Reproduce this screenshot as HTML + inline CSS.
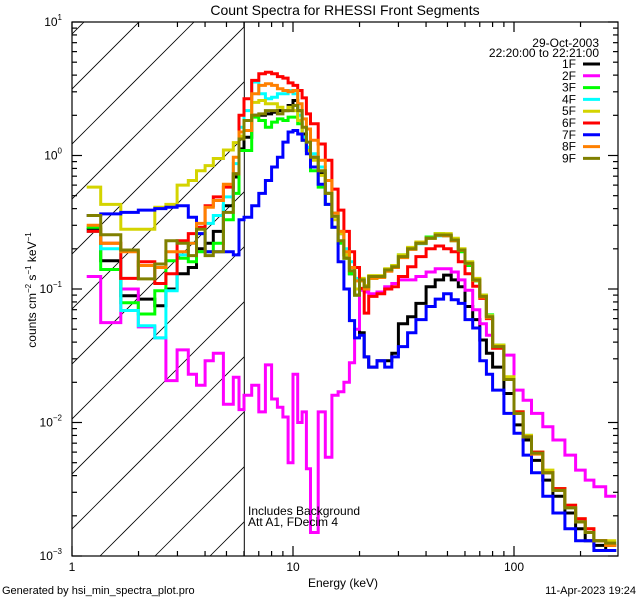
<!DOCTYPE html>
<html><head><meta charset="utf-8"><style>
html,body{margin:0;padding:0;background:#fff;}
svg{display:block;font-family:"Liberation Sans",sans-serif;}
</style></head><body>
<svg id="chart" width="640" height="600" viewBox="0 0 640 600" xmlns="http://www.w3.org/2000/svg">
<rect x="0" y="0" width="640" height="600" fill="#fff"/>
<text x="345" y="15" font-size="14" text-anchor="middle">Count Spectra for RHESSI Front Segments</text>
<defs><clipPath id="hclip"><rect x="72" y="22" width="172" height="534"/></clipPath>
<clipPath id="pclip"><rect x="72" y="22" width="546" height="534"/></clipPath></defs>
<g id="hatch" clip-path="url(#hclip)"></g>
<line x1="244.3" y1="22" x2="244.3" y2="556" stroke="#000" stroke-width="1"/>
<g id="series" clip-path="url(#pclip)"></g>
<g id="axes"></g>
<text transform="translate(36,290) rotate(-90)" font-size="12" text-anchor="middle">counts cm<tspan font-size="8" dy="-5">−2</tspan><tspan dy="5"> s</tspan><tspan font-size="8" dy="-5">−1</tspan><tspan dy="5"> keV</tspan><tspan font-size="8" dy="-5">−1</tspan></text>
<text x="343" y="587" font-size="12" text-anchor="middle">Energy (keV)</text>
<text x="2" y="594" font-size="11">Generated by hsi_min_spectra_plot.pro</text>
<text x="636" y="594" font-size="11" text-anchor="end">11-Apr-2023 19:24</text>
<text x="248" y="515" font-size="12">Includes Background</text>
<text x="248" y="526" font-size="12">Att A1, FDecim  4</text>
<text x="599" y="47" font-size="12" text-anchor="end">29-Oct-2003</text>
<text x="599" y="57" font-size="12" text-anchor="end">22:20:00 to 22:21:00</text>
<g id="legend"></g>
</svg>
<script>
const NS='http://www.w3.org/2000/svg';
const edges=[1.166,1.348,1.662,1.995,2.37,2.66,2.99,3.36,3.66,4.0,4.36,4.84,5.37,5.7,6.0,
6.5,7,7.5,8,8.5,9,9.5,10,10.5,11,11.5,12,13,14,15,16,17,18,19,20,
21,22,24,26,28,30,33,36,40,44,48,52,56,60,65,70,75,80,90,100,110,120,135,150,170,190,210,230,260,290];
const names=['1F','2F','3F','4F','5F','6F','7F','8F','9F'];
const colors=['#000000','#ff00ff','#00ff00','#00ffff','#d4d400','#ff0000','#0000ff','#ff8000','#808000'];
const s1F=[0.28,0.163,0.089,0.084,0.075,0.1,0.13,0.145,0.2,0.22,0.27,0.42,0.69,1.12,
1.37,2.0,2.0,2.05,2.11,2.17,2.17,2.37,2.58,2.17,1.45,1.15,0.97,0.73,0.52,0.37,0.26,0.18,0.13,0.09,
0.047,0.031,0.026,0.029,0.029,0.033,0.055,0.062,0.078,0.104,0.117,0.127,0.117,0.104,0.074,0.059,0.0415,0.033,0.026,0.0165,0.0096,0.0074,0.0052,0.0037,0.0028,0.0021,0.0016,0.0013,0.0012,0.0011];
const s2F=[0.124,0.056,0.1,0.052,0.043,0.0206,0.035,0.023,0.019,0.029,0.033,0.0137,0.0218,0.0125,
0.016,0.019,0.012,0.027,0.015,0.013,0.011,0.005,0.023,0.01,0.012,0.0045,0.0015,0.012,0.0055,0.016,0.017,0.02,0.028,0.05,
0.098,0.095,0.092,0.095,0.104,0.11,0.117,0.117,0.124,0.134,0.142,0.142,0.134,0.117,0.098,0.07,0.055,0.045,0.037,0.032,0.0175,0.0147,0.0117,0.0093,0.0074,0.0057,0.0044,0.0037,0.0033,0.0028];
const s3F=[0.29,0.14,0.079,0.065,0.097,0.163,0.17,0.16,0.19,0.19,0.22,0.33,0.52,1.09,
1.09,1.94,1.83,1.63,1.78,1.88,1.83,1.94,1.94,1.73,1.3,1.09,0.77,0.58,0.43,0.29,0.22,0.17,0.13,0.09,
0.115,0.1,0.12,0.125,0.14,0.15,0.18,0.2,0.22,0.245,0.26,0.25,0.23,0.19,0.15,0.115,0.09,0.064,0.038,0.021,0.012,0.008,0.006,0.0042,0.0032,0.0023,0.0018,0.0015,0.0013,0.0012];
const s4F=[0.27,0.2,0.069,0.053,0.043,0.097,0.18,0.22,0.26,0.31,0.355,0.49,0.87,1.63,
2.17,3.55,2.9,2.66,2.73,2.9,2.9,3.07,2.9,2.0,1.37,1.15,1.03,0.82,0.52,0.37,0.27,0.2,0.16,0.12,
0.118,0.105,0.122,0.125,0.138,0.148,0.176,0.2,0.218,0.24,0.25,0.25,0.232,0.196,0.158,0.118,0.088,0.063,0.037,0.021,0.0118,0.0078,0.0059,0.0042,0.0031,0.0023,0.0018,0.0015,0.0013,0.00125];
const s5F=[0.58,0.43,0.28,0.28,0.41,0.43,0.6,0.65,0.77,0.84,0.95,1.1,1.25,1.4,
1.83,2.5,2.58,2.44,2.44,2.3,2.17,2.3,2.17,1.83,1.3,1.09,0.92,0.71,0.52,0.33,0.26,0.18,0.145,0.1,
0.12,0.106,0.126,0.126,0.142,0.15,0.18,0.205,0.225,0.24,0.26,0.26,0.24,0.2,0.16,0.12,0.09,0.063,0.038,0.022,0.012,0.008,0.006,0.0044,0.0032,0.0024,0.0019,0.0016,0.0013,0.0013];
const s6F=[0.27,0.22,0.12,0.16,0.11,0.13,0.23,0.26,0.29,0.42,0.49,0.58,0.73,2.0,
2.66,3.65,4.1,4.2,4.1,3.9,3.8,3.5,3.35,3.07,2.7,2.05,1.73,1.22,0.92,0.56,0.39,0.27,0.19,0.145,
0.101,0.066,0.088,0.092,0.1,0.104,0.124,0.147,0.175,0.2,0.21,0.2,0.19,0.16,0.13,0.105,0.085,0.06,0.036,0.021,0.012,0.0078,0.006,0.0042,0.0032,0.0024,0.0019,0.0016,0.0013,0.0012];
const s7F=[0.355,0.365,0.375,0.39,0.4,0.41,0.42,0.345,0.26,0.19,0.19,0.19,0.18,0.33,
0.345,0.42,0.52,0.65,0.82,0.97,1.26,1.5,1.54,1.45,1.3,1.03,0.82,0.61,0.43,0.29,0.16,0.1,0.058,0.043,
0.045,0.031,0.026,0.029,0.026,0.031,0.037,0.047,0.059,0.074,0.084,0.092,0.083,0.078,0.059,0.051,0.029,0.023,0.0175,0.0117,0.0083,0.0057,0.0042,0.0028,0.0021,0.0016,0.0013,0.0013,0.0011,0.0011];
const s8F=[0.3,0.22,0.19,0.15,0.145,0.19,0.19,0.22,0.31,0.41,0.46,0.61,0.97,1.5,
1.54,2.9,3.35,3.45,3.35,3.16,3.07,3.0,3.07,2.44,1.88,1.58,1.3,0.92,0.65,0.37,0.27,0.19,0.145,0.115,
0.115,0.1,0.12,0.122,0.136,0.145,0.172,0.198,0.22,0.24,0.252,0.25,0.23,0.195,0.155,0.116,0.087,0.061,0.037,0.021,0.0117,0.0078,0.0058,0.0042,0.0031,0.0023,0.0018,0.0015,0.0013,0.0012];
const s9F=[0.355,0.255,0.196,0.119,0.154,0.23,0.22,0.178,0.28,0.178,0.19,0.375,0.73,1.33,
1.83,2.0,2.05,2.17,2.17,2.05,2.17,2.17,2.37,2.17,1.63,1.26,0.97,0.77,0.52,0.35,0.23,0.17,0.137,0.09,
0.117,0.104,0.124,0.124,0.139,0.147,0.175,0.2,0.22,0.24,0.254,0.254,0.233,0.196,0.156,0.117,0.088,0.062,0.037,0.021,0.0117,0.0078,0.0059,0.0042,0.0031,0.0023,0.0018,0.0015,0.0013,0.00125];
const seriesVals=[s1F,s2F,s3F,s4F,s5F,s6F,s7F,s8F,s9F];
const xTickVals=[1,10,100];
const xTickLabels=['1','10','100'];
const yTickExps=[1,0,-1,-2,-3];

const X0=72,X1=618,Y0=22,Y1=556,XDEC=221,YDEC=133.5;
function xs(e){return X0+XDEC*Math.log10(e);}
function ys(v){return Y1-YDEC*(Math.log10(v)+3);}

// hatch
const hatch=document.getElementById('hatch');
for(let k=-12;k<6;k++){
  const bx=100+55*k;
  const ln=document.createElementNS(NS,'line');
  ln.setAttribute('x1',bx);ln.setAttribute('y1',Y1);
  ln.setAttribute('x2',bx+600);ln.setAttribute('y2',Y1-600);
  ln.setAttribute('stroke','#000');ln.setAttribute('stroke-width','0.8');
  
  
  hatch.appendChild(ln);
}

// series
const sg=document.getElementById('series');
seriesVals.forEach((vals,si)=>{
  let d='';
  vals.forEach((v,i)=>{
    const xa=xs(edges[i]).toFixed(1),xb=xs(edges[i+1]).toFixed(1),y=ys(v).toFixed(1);
    d+=(i===0?'M':'L')+xa+','+y+'L'+xb+','+y;
  });
  const p=document.createElementNS(NS,'path');
  p.setAttribute('d',d);p.setAttribute('fill','none');
  p.setAttribute('stroke',colors[si]);p.setAttribute('stroke-width','3');
  p.setAttribute('stroke-linejoin','miter');
  
  
  sg.appendChild(p);
});

// axes
const ag=document.getElementById('axes');
function L(x1,y1,x2,y2,name){
  const l=document.createElementNS(NS,'line');
  l.setAttribute('x1',x1);l.setAttribute('y1',y1);l.setAttribute('x2',x2);l.setAttribute('y2',y2);
  l.setAttribute('stroke','#000');l.setAttribute('stroke-width','1.2');
  
  
  ag.appendChild(l);
}
function T(x,y,txt,anchor,name,sup){
  const t=document.createElementNS(NS,'text');
  t.setAttribute('x',x);t.setAttribute('y',y);t.setAttribute('font-size','12');
  t.setAttribute('text-anchor',anchor);
  
  
  t.textContent=txt;
  if(sup!==undefined){const s=document.createElementNS(NS,'tspan');s.setAttribute('font-size','8');s.setAttribute('dy','-6');s.textContent=sup;t.appendChild(s);}
  ag.appendChild(t);
}
const frame=document.createElementNS(NS,'rect');
frame.setAttribute('x',X0);frame.setAttribute('y',Y0);frame.setAttribute('width',X1-X0);frame.setAttribute('height',Y1-Y0);
frame.setAttribute('fill','none');frame.setAttribute('stroke','#000');frame.setAttribute('stroke-width','1.2');


ag.appendChild(frame);
for(let dec=1;dec<=100;dec*=10){
  for(let m=1;m<=9;m++){
    const e=dec*m; const x=xs(e); if(x>X1) continue;
    const len=m===1?10:5;
    L(x,Y1,x,Y1-len,'x-tick');L(x,Y0,x,Y0+len,'x-tick-top');
  }
}
xTickVals.forEach((v,i)=>T(xs(v),571,xTickLabels[i],'middle','x-tick-label'));
for(let ex=-3;ex<=0;ex++){
  for(let m=1;m<=9;m++){
    const y=ys(m*Math.pow(10,ex));
    const len=m===1?10:5;
    L(X0,y,X0+len,y,'y-tick');L(X1,y,X1-len,y,'y-tick-right');
  }
}
L(X0,ys(10),X0+10,ys(10),'y-tick');L(X1,ys(10),X1-10,ys(10),'y-tick-right');
yTickExps.forEach(ex=>T(62,ys(Math.pow(10,ex))+4,'10','end','y-tick-label',ex<0?'−'+(-ex):String(ex)));

// legend
const lg=document.getElementById('legend');
names.forEach((n,i)=>{
  const y=64+11.8*i;
  const t=document.createElementNS(NS,'text');
  t.setAttribute('x',576);t.setAttribute('y',y+4);t.setAttribute('font-size','12');t.setAttribute('text-anchor','end');
  
  
  t.textContent=n;lg.appendChild(t);
  const l=document.createElementNS(NS,'line');
  l.setAttribute('x1',583);l.setAttribute('x2',600);l.setAttribute('y1',y);l.setAttribute('y2',y);
  l.setAttribute('stroke',colors[i]);l.setAttribute('stroke-width','3');
  
  
  lg.appendChild(l);
});
</script>
</body></html>
